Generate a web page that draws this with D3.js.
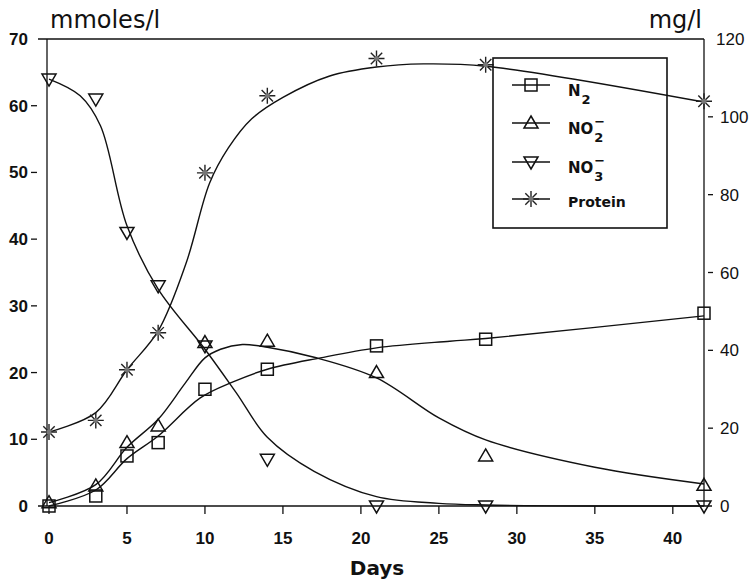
<!DOCTYPE html>
<html>
<head>
<meta charset="utf-8">
<script src="https://cdn.jsdelivr.net/npm/d3@7"></script>
<style>
  body { margin: 0; background: #fff; }
  svg { display: block; }
  text { fill: #111; }
</style>
</head>
<body>
<div id="chart"></div>
<script>
// measured points
const days = [0, 3, 5, 7, 10, 14, 21, 28, 42];
const n2 = [0, 1.5, 7.5, 9.5, 17.5, 20.5, 24, 25, 28.9];
const no2 = [0.5, 3, 9.5, 12, 24.5, 24.7, 20, 7.5, 3.1];
const no3 = [64, 61, 41, 33, 24, 7, 0, 0, 0];
const protein = [19, 22, 35, 44.5, 85.6, 105.4, 115, 113.4, 104];

// fitted curves
const n2FitDays = [0, 3, 5, 7, 9.7, 11.8, 14, 17.4, 21, 25.7, 28, 42];
const n2Fit = [0, 2.4, 7.1, 10.5, 16.2, 18.6, 20.5, 22.2, 23.7, 24.7, 25.1, 28.5];
const no2FitDays = [0, 3, 5, 7, 8.7, 10, 11, 12.4, 14, 17, 21, 25, 28, 35, 42];
const no2Fit = [0.5, 3.2, 8.8, 13, 18.3, 22.2, 23.5, 24.2, 23.8, 22.3, 19.2, 13.2, 9.9, 5.8, 3.3];
const no3FitDays = [0, 2, 3.3, 5, 7, 10, 12, 14, 17, 21, 25, 28, 35, 42];
const no3Fit = [64, 61.5, 57, 42, 32.5, 23.5, 17, 10.3, 5.2, 1.4, 0.4, 0.15, 0, 0];
const proteinFitDays = [0, 3, 5, 7, 8.8, 10.3, 11.5, 13, 15, 18, 21, 24, 28, 42];
const proteinFit = [19, 24, 35, 45, 62.5, 83, 92, 99.5, 105, 110.5, 112.8, 113.6, 113, 103.8];

const xTicks = [0, 5, 10, 15, 20, 25, 30, 35, 40];
const leftTicks = [0, 10, 20, 30, 40, 50, 60, 70];
const rightTicks = [0, 20, 40, 60, 80, 100, 120];

const width = 755;
const height = 581;
const svg = d3.select("#chart").append("svg").attr("width", width).attr("height", height);

const x = d3.scaleLinear().domain([0, 42]).range([49, 704]);
const yL = d3.scaleLinear().domain([0, 70]).range([506, 39]);
const yR = d3.scaleLinear().domain([0, 120]).range([506, 39]);

const tickFont = "'Liberation Sans', Arial, sans-serif";

// frame lines
svg.append("line").attr("x1", 38).attr("x2", 704).attr("y1", yL(70)).attr("y2", yL(70))
    .attr("stroke", "#111").attr("stroke-width", 1.5);
svg.append("line").attr("x1", 38).attr("x2", 712).attr("y1", yL(0)).attr("y2", yL(0))
    .attr("stroke", "#111").attr("stroke-width", 1.5);
svg.append("line").attr("x1", 47).attr("x2", 47).attr("y1", yL(70)).attr("y2", yL(0))
    .attr("stroke", "#111").attr("stroke-width", 1.3);
svg.append("line").attr("x1", 704).attr("x2", 704).attr("y1", yR(120)).attr("y2", yR(0))
    .attr("stroke", "#111").attr("stroke-width", 1.3);

// bottom ticks
svg.selectAll(".xtick").data(xTicks).enter().append("line")
    .attr("x1", (d) => x(d)).attr("x2", (d) => x(d))
    .attr("y1", yL(0)).attr("y2", yL(0) + 8)
    .attr("stroke", "#111").attr("stroke-width", 1.3);
svg.selectAll(".xlab").data(xTicks).enter().append("text")
    .attr("x", (d) => x(d)).attr("y", 544)
    .attr("text-anchor", "middle")
    .attr("font-family", tickFont).attr("font-weight", "bold").attr("font-size", 17)
    .text((d) => d);

// left ticks
svg.selectAll(".ltick").data(leftTicks.filter((d) => d > 0 && d < 70)).enter().append("line")
    .attr("x1", 31).attr("x2", 37)
    .attr("y1", (d) => yL(d)).attr("y2", (d) => yL(d))
    .attr("stroke", "#111").attr("stroke-width", 1.3);
svg.selectAll(".llab").data(leftTicks).enter().append("text")
    .attr("x", 28).attr("y", (d) => yL(d) + 6)
    .attr("text-anchor", "end")
    .attr("font-family", tickFont).attr("font-weight", "bold").attr("font-size", 17)
    .text((d) => d);

// right ticks
svg.selectAll(".rtick").data(rightTicks.filter((d) => d > 0 && d < 120)).enter().append("line")
    .attr("x1", 708).attr("x2", 713)
    .attr("y1", (d) => yR(d)).attr("y2", (d) => yR(d))
    .attr("stroke", "#111").attr("stroke-width", 1.3);
svg.selectAll(".rlab").data(rightTicks).enter().append("text")
    .attr("x", (d) => d == 120 ? 716 : 720).attr("y", (d) => yR(d) + 6)
    .attr("font-family", tickFont).attr("font-size", 17)
    .text((d) => d);

// unit titles
svg.append("text").attr("x", 50).attr("y", 28)
    .attr("font-family", "'DejaVu Sans', sans-serif").attr("font-size", 24)
    .text("mmoles/l");
svg.append("text").attr("x", 702).attr("y", 28).attr("text-anchor", "end")
    .attr("font-family", "'DejaVu Sans', sans-serif").attr("font-size", 24)
    .text("mg/l");
svg.append("text").attr("x", 377).attr("y", 575).attr("text-anchor", "middle")
    .attr("font-family", "'DejaVu Sans', sans-serif").attr("font-weight", "bold").attr("font-size", 20)
    .text("Days");

// curves
function drawCurve(dd, vv, yScale){
    const pts = dd.map((d, i) => [d, vv[i]]);
    svg.append("path").datum(pts)
        .attr("d", d3.line().x((p) => x(p[0])).y((p) => yScale(p[1])).curve(d3.curveCatmullRom.alpha(0.5)))
        .attr("fill", "none").attr("stroke", "#111").attr("stroke-width", 1.4);
}
drawCurve(n2FitDays, n2Fit, yL);
drawCurve(no2FitDays, no2Fit, yL);
drawCurve(no3FitDays, no3Fit, yL);
drawCurve(proteinFitDays, proteinFit, yR);

// markers
function square(g){
    g.append("rect").attr("x", -6).attr("y", -6).attr("width", 12).attr("height", 12)
        .attr("fill", "none").attr("stroke", "#111").attr("stroke-width", 1.5);
}
function triUp(g){
    g.append("path").attr("d", "M0,-7L7,5L-7,5Z")
        .attr("fill", "none").attr("stroke", "#111").attr("stroke-width", 1.5);
}
function triDown(g){
    g.append("path").attr("d", "M0,7L7,-5L-7,-5Z")
        .attr("fill", "none").attr("stroke", "#111").attr("stroke-width", 1.5);
}
function star(g){
    g.append("path").attr("d", "M0,-8V8M-8,0H8M-5.7,-5.7L5.7,5.7M-5.7,5.7L5.7,-5.7")
        .attr("fill", "none").attr("stroke", "#222").attr("stroke-width", 1.4);
    g.append("circle").attr("r", 2.5).attr("fill", "#777");
}
function drawMarkers(vv, yScale, shape){
    svg.append("g").selectAll("g").data(vv).enter().append("g")
        .attr("transform", (d, i) => "translate(" + x(days[i]) + "," + yScale(d) + ")")
        .each(function(){ shape(d3.select(this)); });
}
drawMarkers(n2, yL, square);
drawMarkers(no2, yL, triUp);
drawMarkers(no3, yL, triDown);
drawMarkers(protein, yR, star);

// legend
const legend = svg.append("g");
legend.append("rect").attr("x", 493).attr("y", 58).attr("width", 174).attr("height", 170)
    .attr("fill", "none").attr("stroke", "#111").attr("stroke-width", 1.6);
const legendY = [85, 123, 162, 199];
const shapes = [square, triUp, triDown, star];
const legFont = "'DejaVu Sans', sans-serif";
legendY.forEach((ly, i) => {
    legend.append("line").attr("x1", 512).attr("x2", 550).attr("y1", ly).attr("y2", ly)
        .attr("stroke", "#111").attr("stroke-width", 1.3);
    const g = legend.append("g").attr("transform", "translate(531," + ly + ")");
    shapes[i](g);
});
function chem(ly, main, sup, sub){
    const t = legend.append("text").attr("x", 568).attr("y", ly + 11)
        .attr("font-family", legFont).attr("font-weight", "bold").attr("font-size", 15).text(main);
    const w = t.node().getComputedTextLength();
    if (sup) {
        legend.append("text").attr("x", 568 + w + 1).attr("y", ly + 3)
            .attr("font-family", legFont).attr("font-weight", "bold").attr("font-size", 13).text(sup);
    }
    legend.append("text").attr("x", 568 + w + 1).attr("y", ly + 19)
        .attr("font-family", legFont).attr("font-weight", "bold").attr("font-size", 13).text(sub);
}
chem(legendY[0], "N", null, "2");
chem(legendY[1], "NO", "\u2212", "2");
chem(legendY[2], "NO", "\u2212", "3");
legend.append("text").attr("x", 568).attr("y", legendY[3] + 8)
    .attr("font-family", legFont).attr("font-weight", "bold").attr("font-size", 14).text("Protein");
</script>
</body>
</html>
